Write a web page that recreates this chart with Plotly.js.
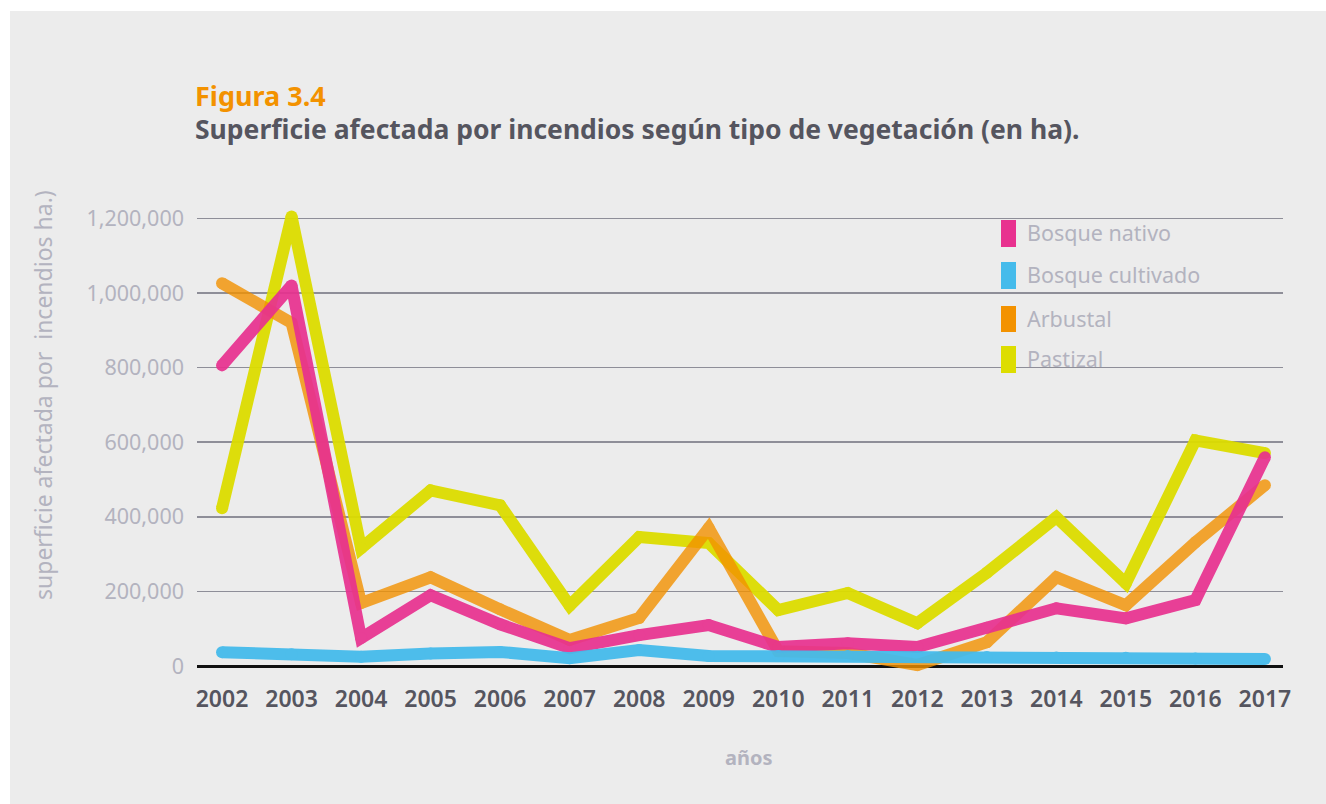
<!DOCTYPE html>
<html>
<head>
<meta charset="utf-8">
<script src="https://cdn.plot.ly/plotly-3.0.1.min.js"></script>
<style>
  html, body { margin: 0; padding: 0; background: #ffffff; }
  #bg { position: absolute; left: 10px; top: 11px; width: 1316px; height: 793px; background: #ECECEC; }
  #chart { position: absolute; left: 0; top: 0; width: 1326px; height: 804px; }
</style>
</head>
<body>
<div id="bg"></div>
<div id="chart"></div>
<script>
// ---- data ----
const years = ['2002','2003','2004','2005','2006','2007','2008','2009','2010','2011','2012','2013','2014','2015','2016','2017'];
const seriesNames = ['Bosque nativo', 'Bosque cultivado', 'Arbustal', 'Pastizal'];
const bosqueNativo    = [806000, 1020000, 75000, 190000, 112000, 48000, 83000, 110000, 51000, 61000, 51000, 103000, 155000, 128000, 177000, 560000];
const bosqueCultivado = [37000, 32000, 25000, 34000, 38000, 21000, 43000, 27000, 27000, 27000, 25000, 24000, 23000, 22000, 20000, 19000];
const arbustal        = [1026000, 920000, 169000, 238000, 152000, 70000, 129000, 370000, 40000, 35000, 3000, 64000, 238000, 163000, 332000, 485000];
const pastizal        = [423000, 1205000, 316000, 471000, 431000, 162000, 346000, 330000, 150000, 196000, 115000, 250000, 399000, 222000, 605000, 571000];
const yTickVals = [0, 200000, 400000, 600000, 800000, 1000000, 1200000];

// ---- styling ----
const colors = {
  'Bosque nativo': '#E8318F',
  'Bosque cultivado': '#45BBEB',
  'Arbustal': '#F39200',
  'Pastizal': '#DDDD00'
};
const opac = { 'Bosque nativo': 0.92, 'Bosque cultivado': 0.95, 'Arbustal': 0.8, 'Pastizal': 0.95 };
const LW = 12;
const FONT = 'Noto Sans, Open Sans, sans-serif';

function mk(name, vals) {
  return {
    type: 'scatter', mode: 'lines+markers', name: name,
    x: years, y: vals,
    line: { color: colors[name], width: LW, shape: 'linear' },
    marker: { color: colors[name], size: LW, line: { width: 0 } },
    opacity: opac[name],
    showlegend: false,
    hoverinfo: 'x+y+name'
  };
}
// draw order: bottom -> top
const data = [
  mk('Pastizal', pastizal),
  mk('Arbustal', arbustal),
  mk('Bosque nativo', bosqueNativo),
  mk('Bosque cultivado', bosqueCultivado)
];

// plot geometry (px)
const W = 1326, H = 804;
const M = { l: 197, r: 43, t: 196, b: 123 };
const PW = W - M.l - M.r, PH = H - M.t - M.b;
const px = x => (x - M.l) / PW;          // page x -> paper x
const py = y => (H - M.b - y) / PH;      // page y -> paper y

const labelGray = '#B3B3BF';
const darkGray = '#55555F';

const shapes = [];
const annotations = [];

// legend background (covers gridlines)
shapes.push({ type: 'rect', xref: 'paper', yref: 'paper', layer: 'between',
  x0: px(988), x1: px(1233), y0: py(208), y1: py(382),
  fillcolor: '#ECECEC', line: { width: 0 } });

const legendRows = [[220, 247], [262, 289], [306, 332], [346, 373]];
seriesNames.forEach((n, i) => {
  const [a, b] = legendRows[i];
  shapes.push({ type: 'rect', xref: 'paper', yref: 'paper', layer: 'above',
    x0: px(1001), x1: px(1016), y0: py(b), y1: py(a),
    fillcolor: colors[n], line: { width: 0 } });
  annotations.push({ xref: 'paper', yref: 'paper', x: px(1025), y: py((a + b) / 2 - 1),
    xanchor: 'left', yanchor: 'middle', showarrow: false, text: n,
    font: { family: FONT, size: 21.5, color: labelGray } });
});

// titles
annotations.push({ xref: 'paper', yref: 'paper', x: px(193), y: py(95), xanchor: 'left', yanchor: 'middle',
  showarrow: false, text: '<b>Figura 3.4</b>',
  font: { family: FONT, size: 27, color: '#F39200' } });
annotations.push({ xref: 'paper', yref: 'paper', x: px(193), y: py(129), xanchor: 'left', yanchor: 'middle',
  showarrow: false, text: '<b>Superficie afectada por incendios según tipo de vegetación (en ha).</b>',
  font: { family: FONT, size: 26.5, color: darkGray } });

// axis titles
annotations.push({ xref: 'paper', yref: 'paper', x: px(43), y: py(395), xanchor: 'center', yanchor: 'middle',
  showarrow: false, textangle: -90, text: 'superficie afectada por&nbsp; incendios ha.)',
  font: { family: FONT, size: 23, color: labelGray } });
annotations.push({ xref: 'paper', yref: 'paper', x: px(749), y: py(757), xanchor: 'center', yanchor: 'middle',
  showarrow: false, text: '<b>años</b>',
  font: { family: FONT, size: 20, color: labelGray } });

const layout = {
  width: W, height: H,
  margin: M,
  paper_bgcolor: 'rgba(0,0,0,0)',
  plot_bgcolor: 'rgba(0,0,0,0)',
  showlegend: false,
  xaxis: {
    type: 'category',
    range: [-0.36, 15.26],
    showgrid: false, zeroline: false, showline: false,
    ticks: '',
    tickfont: { family: FONT, size: 23, color: darkGray, weight: 600 },
    ticklabelstandoff: 2
  },
  yaxis: {
    range: [-40000, 1260000],
    tickvals: yTickVals,
    tickformat: ',d',
    showgrid: true, gridcolor: '#8E8E98', gridwidth: 1.5,
    zeroline: true, zerolinecolor: '#111111', zerolinewidth: 3,
    showline: false, ticks: '',
    tickfont: { family: FONT, size: 21.5, color: labelGray },
    ticklabelstandoff: 12
  },
  shapes: shapes,
  annotations: annotations
};

Plotly.newPlot('chart', data, layout, { displayModeBar: false, staticPlot: true });
</script>
</body>
</html>
